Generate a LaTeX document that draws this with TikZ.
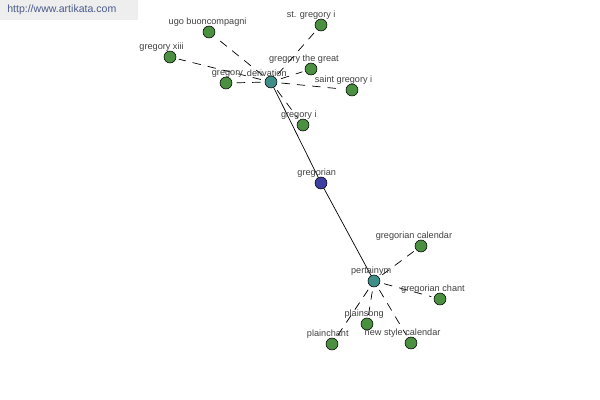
\documentclass[tikz,border=0pt]{standalone}
\usepackage{fontspec}
\setmainfont{Liberation Sans}
\usetikzlibrary{backgrounds}
\definecolor{leafgreen}{HTML}{4A9040}
\definecolor{hubteal}{HTML}{3F8F88}
\definecolor{rootblue}{HTML}{3D40A0}
\definecolor{lblgray}{HTML}{404040}
\definecolor{markgray}{HTML}{EEEEEE}
\definecolor{markblue}{HTML}{4A5A8A}
\tikzset{lbl/.style={rectangle, draw=none, fill=none, minimum size=0pt, font=\fontsize{6.5}{7}\selectfont, text=lblgray, inner sep=0.5pt, yshift=-1pt}}

\begin{document}
\begin{tikzpicture}[x=0.025cm, y=-0.025cm,
  every node/.style={circle, draw, fill=leafgreen, minimum size=8.5pt, inner sep=0pt},
  link/.style={dash pattern=on 6pt off 5pt, line width=0.5pt, shorten <=3pt, shorten >=2pt}]
			\useasboundingbox (0,0) rectangle (600,400);
			% Watermark
			\fill[markgray] (0,0) rectangle (138,20);
			\node[draw=none, fill=none, rectangle, anchor=west, font=\fontsize{7.5}{9}\selectfont, text=markblue] (mark) at (7,10) {http://www.artikata.com};
			
			% Define vertices
			\node[fill=rootblue, label={[lbl, xshift=-3pt]above:gregorian}] (G) at (321,183) {};
			\node[fill=hubteal, label={[lbl, xshift=-3pt]above:derivation}] (D) at (271,82) {};
			\node[fill=hubteal, label={[lbl, xshift=-2pt]above:pertainym}] (P) at (374,281) {};
			
			\node[label={[lbl, xshift=-1pt]above:ugo buoncompagni}] (D1) at (209,32) {};
			\node[label={[lbl, xshift=-7pt]above:st. gregory i}] (D2) at (321,25) {};
			\node[label={[lbl, xshift=-6pt]above:gregory xiii}] (D3) at (170,57) {};
			\node[label={[lbl, xshift=-5pt]above:gregory the great}] (D4) at (311,69) {};
			\node[label={[lbl, xshift=1pt]above:gregory}] (D5) at (226,83) {};
			\node[label={[lbl, xshift=-6pt]above:saint gregory i}] (D6) at (352,90) {};
			\node[label={[lbl, xshift=-3pt]above:gregory i}] (D7) at (303,125) {};
			
			\node[label={[lbl, xshift=-5pt]above:gregorian calendar}] (P1) at (421,246) {};
			\node[label={[lbl, xshift=-5pt]above:gregorian chant}] (P2) at (440,299) {};
			\node[label={[lbl, xshift=-2pt]above:plainsong}] (P3) at (367,324) {};
			\node[label={[lbl, xshift=-3pt]above:plainchant}] (P4) at (332,344) {};
			\node[label={[lbl, xshift=-6pt]above:new style calendar}] (P5) at (411,343) {};
			
			\begin{scope}[on background layer]
			% Solid edges through the root
			\draw[line width=0.5pt] (D) -- (G);
			\draw[line width=0.5pt] (G) -- (P);
			
			% Dashed edges around derivation
			\foreach \n in {D1,D2,D3,D4,D5,D6,D7}
				\draw[link] (D) -- (\n);
			
			% Dashed edges around pertainym
			\foreach \n in {P1,P2,P3,P4,P5}
				\draw[link] (P) -- (\n);
			\end{scope}
		\end{tikzpicture}
\end{document}
